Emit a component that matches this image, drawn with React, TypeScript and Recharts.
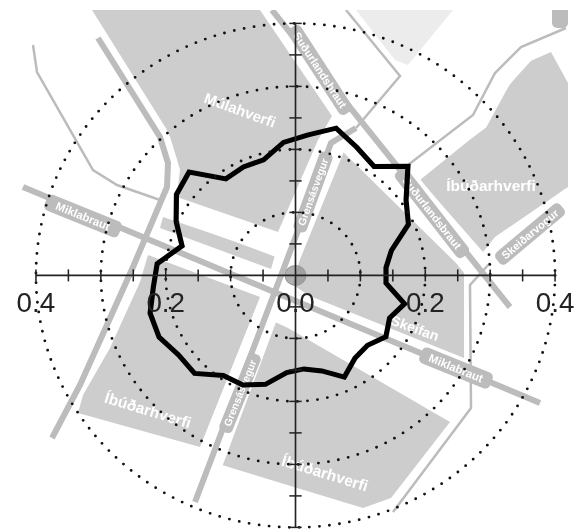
import React from 'react';
import { RadarChart, Radar, PolarAngleAxis, PolarRadiusAxis } from 'recharts';

const bearings = [5, 15, 25, 35, 45, 55, 65, 75, 85, 95, 105, 115, 125, 135, 145, 155, 165, 175, 185, 195, 205, 215, 225, 235, 245, 255, 265, 275, 285, 295, 305, 315, 325, 335, 345, 355];
const shares = [0.224, 0.242, 0.224, 0.211, 0.245, 0.208, 0.192, 0.153, 0.14, 0.14, 0.174, 0.16, 0.17, 0.157, 0.16, 0.178, 0.157, 0.149, 0.155, 0.179, 0.192, 0.194, 0.22, 0.22, 0.232, 0.232, 0.22, 0.214, 0.181, 0.203, 0.224, 0.232, 0.187, 0.19, 0.19, 0.212];
const rows = bearings.map((b, i) => ({ bearing: b, share: shares[i] }));
const radiusTicks = [0, 0.05, 0.1, 0.15, 0.2, 0.25, 0.3, 0.35, 0.4];
const gridTicks = [0.1, 0.2, 0.3, 0.4];
const labelledTicks = [0.2, 0.4];
const CX = 286.9;
const CY = 275.4;

const GREY = '#cdcdcd';
const ROAD = '#bcbcbc';

const blocks: string[] = [
  '92,10 260,10 332,116 318,140 278,232 177,197 177,160 167,130',
  '338,147 456,263 464,273 464,358 310,296 293,285 302,250',
  '163,217 275,255 271,269 160,228',
  '148,255 260,297 200,447 78,413 83,395 110,348 140,282',
  '275,322 222,465 363,508 391,498 450,422 288,328',
  '420,180 478,133 508,87 526,63 551,52 568,83 568,187 495,237 483,252',
];
const wideRoads: string[] = [
  '98,38 160,137 168,163 167,187 133,267 80,385 52,438',
  '23,187 540,403',
  '272,10 510,307',
  '356,128 331,143 285,265 195,502',
];
const thinRoads: string[] = [
  '33,45 37,72 93,170 117,185 160,200',
  '346,10 400,76 356,128',
  '408,165 473,115 495,73 521,47 566,28',
  '490,263 470,285 471,408 393,512',
];
const halos: string[] = [
  '100,28 168,137 178,170 175,195',
  '167,247 300,303',
  '272,10 500,290',
  '340,140 285,275 205,490',
  '415,170 480,122 503,80 530,50',
  '178,212 280,250',
  '488,262 570,195',
];
const pills = [
  { x: 83, y: 216, w: 80, h: 17, a: 22, t: 'Miklabraut', s: 11.5 },
  { x: 456, y: 368, w: 76, h: 17, a: 22, t: 'Miklabraut', s: 11.5 },
  { x: 320, y: 70, w: 102, h: 15, a: 57, t: 'Suðurlandsbraut', s: 11 },
  { x: 432, y: 213, w: 108, h: 15, a: 52, t: 'Suðurlandsbraut', s: 11 },
  { x: 313, y: 192, w: 84, h: 14, a: -70, t: 'Grensásvegur', s: 10.5 },
  { x: 240, y: 393, w: 84, h: 14, a: -68, t: 'Grensásvegur', s: 10.5 },
  { x: 530, y: 234, w: 84, h: 15, a: -40, t: 'Skeiðarvogur', s: 11 },
];
const areaNames = [
  { x: 240, y: 110, a: 20, t: 'Múlahverfi', s: 15 },
  { x: 491, y: 185, a: 0, t: 'Íbúðarhverfi', s: 15.5 },
  { x: 148, y: 410, a: 17, t: 'Íbúðarhverfi', s: 15.5 },
  { x: 325, y: 473, a: 17, t: 'Íbúðarhverfi', s: 15.5 },
  { x: 415, y: 328, a: 20, t: 'Skeifan', s: 14 },
];

function MapLayer() {
  return (
    <svg width={576} height={531} style={{ position: 'absolute', left: 0, top: 0 }}>
      <defs>
        <clipPath id="frame"><rect x={0} y={10} width={569} height={521} /></clipPath>
      </defs>
      <g clipPath="url(#frame)" fontFamily="Liberation Sans" fontWeight="bold" fill="#fff">
        <polygon points="356,10 453,10 408,65 395,60" fill="#ececec" />
        {blocks.map((p, i) => <polygon key={i} points={p} fill={GREY} />)}
        {halos.map((p, i) => <polyline key={i} points={p} fill="none" stroke="#fff" strokeWidth={i === 0 ? 4 : 16} />)}
        {wideRoads.map((p, i) => <polyline key={i} points={p} fill="none" stroke={ROAD} strokeWidth={6} />)}
        {thinRoads.map((p, i) => <polyline key={i} points={p} fill="none" stroke={ROAD} strokeWidth={2.5} />)}
        <rect x={552} y={4} width={16} height={24} rx={5} fill={ROAD} />
        {pills.map((p, i) => (
          <g key={i} transform={`translate(${p.x},${p.y}) rotate(${p.a})`}>
            <rect x={-p.w / 2} y={-p.h / 2} width={p.w} height={p.h} rx={5} fill={ROAD} />
            <text textAnchor="middle" y={p.s * 0.36} fontSize={p.s}>{p.t}</text>
          </g>
        ))}
        {areaNames.map((n, i) => (
          <text key={i} transform={`translate(${n.x},${n.y}) rotate(${n.a})`} textAnchor="middle" y={n.s * 0.36} fontSize={n.s}>{n.t}</text>
        ))}
      </g>
    </svg>
  );
}

const near = (list: number[], v: number) => list.some((t) => Math.abs(t - v) < 1e-6);

// The axis scale gives each tick's radius; the axis, its mirror arms and the dotted rings are drawn from it.
const RadiusTick = (props: any) => {
  const { x, payload } = props;
  const v = Number(payload.value);
  const r = x - CX;
  const ink = '#222';
  if (v < 1e-6) {
    return (
      <g>
        <circle cx={CX} cy={CY} r={10} fill="#8f8f8f" fillOpacity={0.7} stroke="#999" />
        <text x={CX} y={CY + 37} textAnchor="middle" fontFamily="Liberation Sans" fontSize={27} fill={ink}>0.0</text>
      </g>
    );
  }
  return (
    <g>
      {near(gridTicks, v) && (
        <circle cx={CX} cy={CY} r={r} fill="none" stroke="#111" strokeWidth={2.8} strokeDasharray="0 9.8" strokeLinecap="round" />
      )}
      {near([radiusTicks[radiusTicks.length - 1]], v) && (
        <g stroke={ink} strokeWidth={1.6}>
          <line x1={CX - r} x2={CX + r} y1={CY} y2={CY} />
          <line x1={CX} x2={CX} y1={CY - r} y2={CY + r} />
        </g>
      )}
      <g stroke={ink} strokeWidth={1.5}>
        <line x1={CX + r} x2={CX + r} y1={CY - 6} y2={CY + 6} />
        <line x1={CX - r} x2={CX - r} y1={CY - 6} y2={CY + 6} />
        <line x1={CX - 6} x2={CX + 6} y1={CY - r} y2={CY - r} />
        <line x1={CX - 6} x2={CX + 6} y1={CY + r} y2={CY + r} />
      </g>
      {near(labelledTicks, v) && (
        <g fontFamily="Liberation Sans" fontSize={27} fill={ink} textAnchor="middle">
          <text x={CX - r} y={CY + 37}>{v.toFixed(1)}</text>
          <text x={CX + r} y={CY + 37}>{v.toFixed(1)}</text>
        </g>
      )}
    </g>
  );
};

export default function App() {
  return (
    <div style={{ position: 'absolute', left: 0, top: 0, width: 576, height: 531, overflow: 'hidden', background: '#fff', filter: 'blur(0.5px)' }}>
      <MapLayer />
      <div style={{ position: 'absolute', left: 0, top: 0, transform: 'scale(1.03,1)', transformOrigin: '0 0' }}>
        <RadarChart width={559} height={531} data={rows} cx={CX} cy={CY} innerRadius={0} outerRadius={252} startAngle={85} endAngle={-275} margin={{ top: 0, right: 0, bottom: 0, left: 0 }}>
          <PolarAngleAxis dataKey="bearing" tick={false} tickLine={false} axisLine={false} />
          <PolarRadiusAxis angle={0} domain={[0, 0.4]} ticks={radiusTicks} tickCount={radiusTicks.length} axisLine={false} tickLine={false} tick={RadiusTick} />
          <Radar dataKey="share" stroke="#000" strokeWidth={5} fill="none" fillOpacity={0} dot={false} isAnimationActive={false} />
        </RadarChart>
      </div>
    </div>
  );
}
